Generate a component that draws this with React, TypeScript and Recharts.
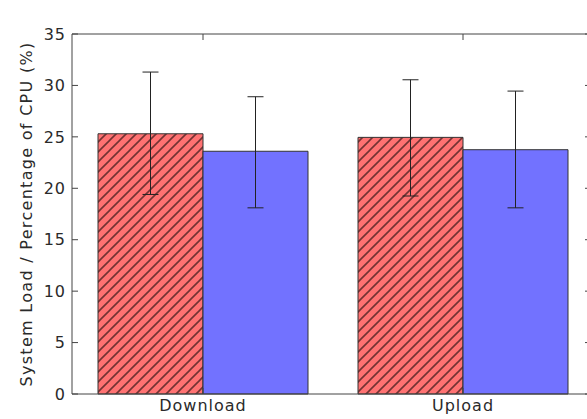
import { Bar, BarChart, ErrorBar, XAxis, YAxis } from "recharts";

const categories = ["Download", "Upload"];
const redValues = [25.3, 24.95];
const redErrLow = [5.9, 5.7];
const redErrHigh = [6.0, 5.6];
const blueValues = [23.6, 23.75];
const blueErrLow = [5.5, 5.65];
const blueErrHigh = [5.3, 5.7];
const yTicks = [0, 5, 10, 15, 20, 25, 30, 35];

const data = categories.map((name, i) => ({
  name,
  red: redValues[i],
  redErr: [redErrLow[i], redErrHigh[i]],
  blue: blueValues[i],
  blueErr: [blueErrLow[i], blueErrHigh[i]],
  frame: 0,
}));

const FRAME = "#444";
const font = {
  fontSize: 16,
  fill: "#2a2a2a",
  fontFamily: "DejaVu Sans",
  letterSpacing: 1,
};
const noLabel = () => null;

export default function App() {
  return (
    <div
      style={{
        position: "absolute",
        left: 0,
        top: 0,
        width: 587,
        height: 419,
        overflow: "hidden",
        background: "#fff",
      }}
    >
      <BarChart
        width={600}
        height={419}
        data={data}
        margin={{ top: 33, right: 0, bottom: 0, left: 0 }}
        barGap={0}
        barSize={105}
      >
        <defs>
          <pattern id="hatch" patternUnits="userSpaceOnUse" width="10" height="10">
            <rect width="10" height="10" fill="#ff7272" />
            <path
              d="M-2.5,2.5 l5,-5 M0,10 l10,-10 M7.5,12.5 l5,-5"
              stroke="#000"
              strokeOpacity={0.55}
              strokeWidth={1.6}
            />
          </pattern>
        </defs>
        <Bar dataKey="red" fill="url(#hatch)" stroke="#333" strokeWidth={1} isAnimationActive={false}>
          <ErrorBar dataKey="redErr" width={8} stroke="#222" strokeWidth={1} />
        </Bar>
        <Bar dataKey="blue" fill="#7272ff" stroke="#333" strokeWidth={1} isAnimationActive={false}>
          <ErrorBar dataKey="blueErr" width={8} stroke="#222" strokeWidth={1} />
        </Bar>
        {/* empty series so the top and right axes get drawn */}
        <Bar
          dataKey="frame"
          xAxisId="top"
          yAxisId="right"
          fill="none"
          legendType="none"
          isAnimationActive={false}
        />
        <XAxis
          dataKey="name"
          height={25}
          padding={{ left: 1, right: 0 }}
          tickSize={-6}
          tickMargin={12}
          stroke={FRAME}
          tick={font}
        />
        <XAxis
          xAxisId="top"
          dataKey="name"
          orientation="top"
          height={1}
          padding={{ left: 1, right: 0 }}
          tickSize={-6}
          stroke={FRAME}
          tick={noLabel}
        />
        <YAxis
          width={72}
          domain={[0, 35]}
          ticks={yTicks}
          tickSize={-6}
          tickMargin={12}
          stroke={FRAME}
          tick={font}
          label={{
            value: "System Load / Percentage of CPU (%)",
            angle: -90,
            position: "center",
            dx: -10,
            style: { ...font, letterSpacing: 1.3, textAnchor: "middle" },
          }}
        />
        <YAxis
          yAxisId="right"
          orientation="right"
          width={7}
          domain={[0, 35]}
          ticks={yTicks}
          tickSize={-8}
          stroke={FRAME}
          tick={noLabel}
        />
      </BarChart>
    </div>
  );
}
